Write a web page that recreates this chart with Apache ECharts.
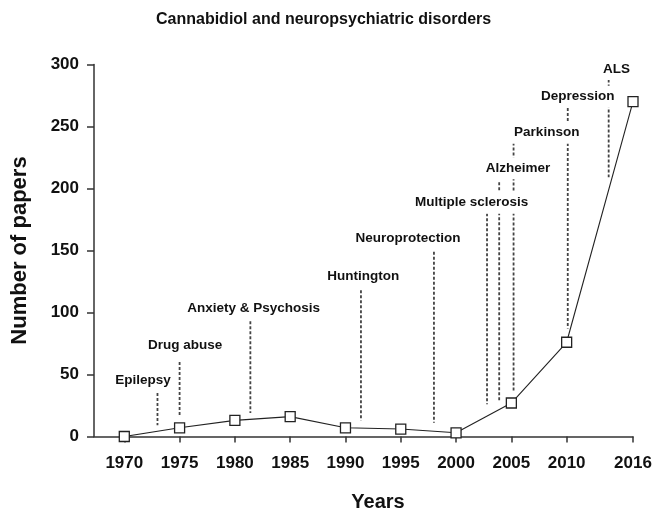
<!DOCTYPE html>
<html>
<head>
<meta charset="utf-8">
<script src="https://cdn.jsdelivr.net/npm/echarts@6/dist/echarts.min.js"></script>
<style>html,body{margin:0;padding:0;background:#fff}#c{width:654px;height:509px}</style>
</head>
<body>
<div id="c"></div>
<script>
// Data
const years = [1970, 1975, 1980, 1985, 1990, 1995, 2000, 2005, 2010, 2016];
const papers = [0, 7, 13, 16, 7, 6, 3, 27, 76, 270];
const xTicks = [1970, 1975, 1980, 1985, 1990, 1995, 2000, 2005, 2010, 2016];

const annoNames = ['Epilepsy', 'Drug abuse', 'Anxiety & Psychosis', 'Huntington', 'Neuroprotection',
  'Multiple sclerosis', 'Alzheimer', 'Parkinson', 'Depression', 'ALS'];
const annoLineYear = [1973, 1975, 1981.4, 1991.4, 1998, 2002.8, 2003.9, 2005.2, 2010.1, 2013.8];
const annoLineTop = [35, 60, 93, 118, 149, 180, 205, 237, 265, 288];
const annoLineBottom = [9, 17, 19, 13, 11, 26, 29, 36, 87, 209];
const annoLabelYear = [1971.7, 1975.5, 1981.7, 1991.6, 1995.65, 2001.4, 2005.6, 2008.2, 2011, 2014.5];
const annoLabelValue = [45.6, 73.5, 103, 129.4, 159.8, 188.5, 216.3, 245, 274, 296.4];

const FONT = "'Liberation Sans', Arial, sans-serif";
const chart = echarts.init(document.getElementById('c'));

const lineData = annoLineYear.map((y, i) => [y, annoLineTop[i], annoLineBottom[i]]);
const labelData = annoLabelYear.map((y, i) => [y, annoLabelValue[i], annoNames[i]]);

chart.setOption({
  animation: false,
  backgroundColor: '#fff',
  title: {
    text: 'Cannabidiol and neuropsychiatric disorders',
    left: 156, top: 12, padding: 0,
    textStyle: { fontFamily: FONT, fontSize: 16, fontWeight: 'bold', color: '#111' }
  },
  grid: { left: 94, right: 21, top: 64.5, bottom: 72.5, containLabel: false, outerBoundsMode: 'none' },
  xAxis: {
    type: 'value', min: 1967.26, max: 2016,
    name: 'Years', nameLocation: 'middle', nameGap: 56,
    nameTextStyle: { fontFamily: FONT, fontSize: 20, fontWeight: 'bold', color: '#111', padding: [0, 0, 0, 29] },
    axisLine: { onZero: false, lineStyle: { color: '#333', width: 1.5 } },
    axisTick: { show: true, length: 6, customValues: xTicks, lineStyle: { color: '#333', width: 1.5 } },
    axisLabel: { customValues: xTicks, margin: 18, formatter: v => String(v), fontFamily: FONT, fontSize: 17, fontWeight: 'bold', color: '#111' },
    splitLine: { show: false }
  },
  yAxis: {
    type: 'value', min: 0, max: 300, interval: 50,
    name: 'Number of papers', nameLocation: 'middle', nameGap: 63,
    nameTextStyle: { fontFamily: FONT, fontSize: 22, fontWeight: 'bold', color: '#111' },
    axisLine: { show: true, onZero: false, lineStyle: { color: '#333', width: 1.5 } },
    axisTick: { show: true, length: 7, lineStyle: { color: '#333', width: 1.5 } },
    axisLabel: { margin: 15, fontFamily: FONT, fontSize: 17, fontWeight: 'bold', color: '#111' },
    splitLine: { show: false }
  },
  series: [
    {
      type: 'custom', z: 1, silent: true,
      data: lineData,
      encode: { x: 0, y: [1, 2] },
      renderItem: function (params, api) {
        const a = api.coord([api.value(0), api.value(1)]);
        const b = api.coord([api.value(0), api.value(2)]);
        return {
          type: 'line',
          shape: { x1: a[0], y1: a[1], x2: b[0], y2: b[1] },
          style: { stroke: '#444', lineWidth: 1.8, lineDash: [3, 2] }
        };
      }
    },
    {
      type: 'custom', z: 2, silent: true,
      data: labelData,
      encode: { x: 0, y: 1 },
      renderItem: function (params, api) {
        const p = api.coord([api.value(0), api.value(1)]);
        return {
          type: 'text',
          x: p[0], y: p[1],
          style: {
            text: labelData[params.dataIndex][2],
            font: 'bold 13.5px ' + FONT,
            fill: '#111',
            align: 'center', verticalAlign: 'middle',
            backgroundColor: '#fff',
            padding: [4, 3, 4, 3]
          }
        };
      }
    },
    {
      type: 'line', z: 3,
      data: years.map((y, i) => [y, papers[i]]),
      symbol: 'rect', symbolSize: 10, showSymbol: true,
      lineStyle: { color: '#222', width: 1.1 },
      itemStyle: { color: '#fff', borderColor: '#222', borderWidth: 1.3 }
    }
  ]
});
</script>
</body>
</html>
